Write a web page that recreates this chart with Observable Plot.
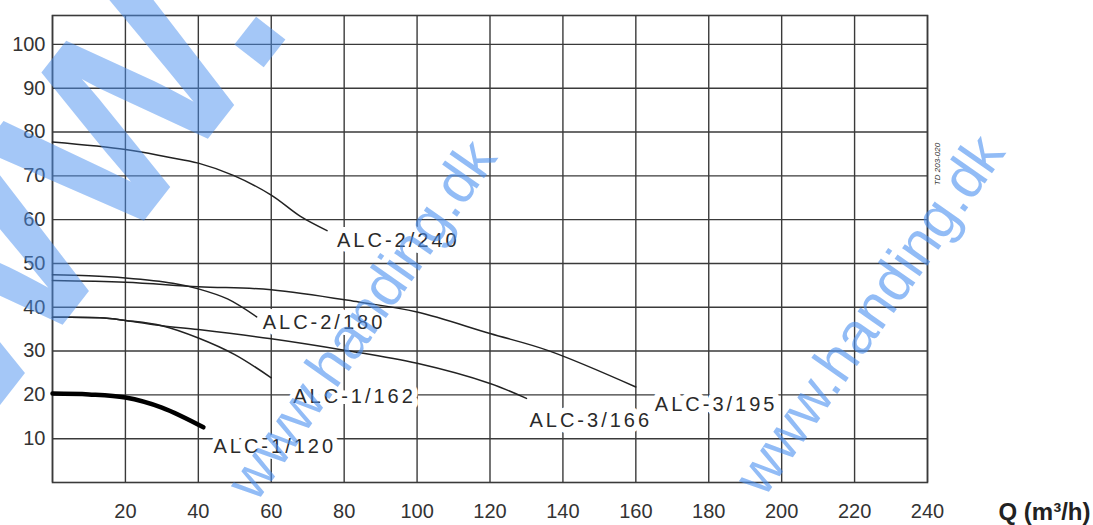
<!DOCTYPE html>
<html><head><meta charset="utf-8">
<script src="https://cdn.jsdelivr.net/npm/d3@7"></script>
<script src="https://cdn.jsdelivr.net/npm/@observablehq/plot@0.6"></script>
<style>body{margin:0;background:#fff} #chart svg{display:block}</style>
</head><body><div id="chart"></div>
<script>
// ---- data ----
const qTicks = [20, 40, 60, 80, 100, 120, 140, 160, 180, 200, 220, 240];
const hTicks = [10, 20, 30, 40, 50, 60, 70, 80, 90, 100];
const gridQ = [0, 20, 40, 60, 80, 100, 120, 140, 160, 180, 200, 220, 240];

const curveNames = ["ALC-2/240", "ALC-2/180", "ALC-3/195", "ALC-3/166", "ALC-1/162", "ALC-1/120"];

const alc2_240_q = [0, 20, 31.5, 40, 49.6, 60, 67.9, 75.3];
const alc2_240_h = [77.7, 76.0, 74.3, 72.9, 70.1, 65.6, 60.8, 57.5];

const alc2_180_q = [0, 10, 20, 33, 40, 48, 56];
const alc2_180_h = [47.4, 47.2, 46.7, 45.5, 44.2, 41.9, 37.8];

const alc3_195_q = [0, 20, 40, 60, 84, 100, 120, 136, 160];
const alc3_195_h = [46.1, 45.7, 44.7, 44.0, 41.2, 38.9, 34.0, 30.1, 21.8];

const alc3_166_q = [0, 13, 20, 30, 40, 60, 80, 100, 120, 130];
const alc3_166_h = [37.7, 37.6, 37.0, 35.8, 34.9, 32.8, 30.2, 27.2, 22.6, 19.2];

const alc1_162_q = [0, 13, 20, 30, 40, 50, 60];
const alc1_162_h = [37.7, 37.6, 37.0, 35.8, 33.0, 29.2, 23.9];

const alc1_120_q = [0, 10, 20, 30, 41.4];
const alc1_120_h = [20.3, 20.1, 19.4, 17.1, 12.6];

const xAxisLabel = "Q (m³/h)";
const docCode = "TD 203-020";
const watermark = "www.handing.dk";
const watermarkBig = "WWW.";

// ---- build tables ----
const seriesQ = [alc2_240_q, alc2_180_q, alc3_195_q, alc3_166_q, alc1_162_q, alc1_120_q];
const seriesH = [alc2_240_h, alc2_180_h, alc3_195_h, alc3_166_h, alc1_162_h, alc1_120_h];
const rows = [];
curveNames.forEach((name, i) => seriesQ[i].forEach((q, j) => rows.push({name, q, h: seriesH[i][j]})));
const ends = curveNames.map((name, i) => ({name, q: seriesQ[i][seriesQ[i].length - 1], h: seriesH[i][seriesH[i].length - 1]}));

// ---- styles (offsets of labels from curve ends) ----
const labelOffset = {
  "ALC-2/240": [10, 10], "ALC-2/180": [6, 6], "ALC-3/195": [19, 18],
  "ALC-3/166": [3, 22], "ALC-1/162": [22, 19], "ALC-1/120": [10, 19]
};
const ink = "#222";
const gridInk = "#3a3a3a";
const blue = "#4a8ff0";

const labelMarks = ends.map(e => Plot.text([e], {
  x: "q", y: "h", text: "name", dx: labelOffset[e.name][0], dy: labelOffset[e.name][1],
  textAnchor: "start", lineAnchor: "middle", fontSize: 20, fontFamily: "Liberation Sans, Arial, sans-serif",
  fill: "#2a2a2a", stroke: "white", strokeWidth: 12
}));

const chart = Plot.plot({
  width: 1093, height: 525,
  marginLeft: 52, marginRight: 166, marginTop: 15, marginBottom: 43,
  style: {fontFamily: "Liberation Sans, Arial, sans-serif", fontSize: "20px", color: "#333", background: "white"},
  x: {domain: [0, 240], ticks: qTicks, tickSize: 0, tickPadding: 21, label: null},
  y: {domain: [0, 106.6], ticks: hTicks, tickSize: 0, tickPadding: 7, label: null},
  marks: [
    Plot.gridX(gridQ, {stroke: gridInk, strokeOpacity: 1, strokeWidth: 1.4}),
    Plot.gridY(hTicks, {stroke: gridInk, strokeOpacity: 1, strokeWidth: 1.4}),
    Plot.frame({stroke: gridInk, strokeWidth: 1.6}),
    ...labelMarks,
    Plot.line(rows.filter(d => d.name !== "ALC-1/120"), {x: "q", y: "h", z: "name", curve: "catmull-rom", stroke: ink, strokeWidth: 1.5}),
    Plot.line(rows.filter(d => d.name === "ALC-1/120"), {x: "q", y: "h", curve: "catmull-rom", stroke: "#000", strokeWidth: 4.5}),
    Plot.text([xAxisLabel], {frameAnchor: "bottom-right", text: d => d, dx: 163, dy: 30, textAnchor: "end", lineAnchor: "middle",
      fontSize: 24, fontWeight: "bold", fill: "#222"})
  ]
});
const svg = d3.select(chart);
svg.selectAll("text").filter(function() { return this.textContent.startsWith("ALC-"); })
  .attr("letter-spacing", "3px");

// decorative texts (document code and watermark), placed in screen pixels
svg.append("text").text(docCode)
  .attr("transform", "translate(937,164) rotate(-90)")
  .attr("text-anchor", "middle").attr("dy", "0.32em")
  .attr("font-size", 8).attr("font-style", "italic").attr("fill", "#333");

const wm = svg.append("g").attr("fill", blue)
  .attr("font-family", "Liberation Sans, Arial, sans-serif");
[[362, 320], [870, 315]].forEach(([cx, cy]) => {
  wm.append("text").text(watermark)
    .attr("transform", `translate(${cx},${cy}) rotate(-55)`)
    .attr("text-anchor", "middle").attr("dy", "0.32em").attr("font-size", 58)
    .attr("fill-opacity", 0.6);
});
wm.append("text").text(watermarkBig)
  .attr("transform", "translate(296,26) rotate(-52)")
  .attr("text-anchor", "end").attr("font-size", 250).attr("font-weight", "bold")
  .attr("fill-opacity", 0.5);

document.getElementById("chart").appendChild(chart);
</script></body></html>
